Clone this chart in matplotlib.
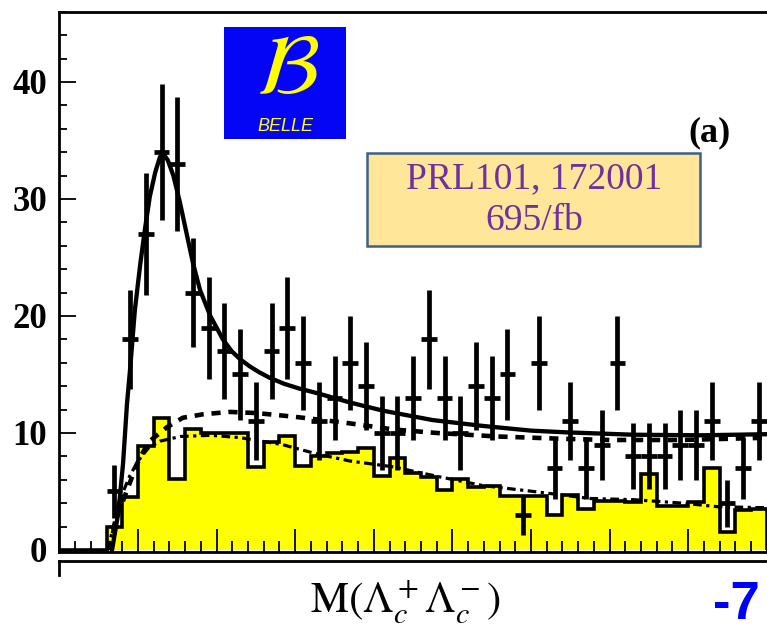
import numpy as np
import matplotlib
matplotlib.use("Agg")
import matplotlib.pyplot as plt
from matplotlib.patches import Rectangle
from matplotlib.ticker import MultipleLocator, NullFormatter

plt.rcParams["mathtext.fontset"] = "stix"

W, H = 767, 629

# 20 MeV bins of M(Lc+ Lc-) in GeV
edges = np.linspace(4.50, 5.40, 46)
centers = 0.5 * (edges[:-1] + edges[1:])

# scaled sideband background (yellow histogram)
bkg = [0, 0, 0, 2.0, 4.5, 8.9, 11.3, 6.1, 10.3, 10.0, 10.0, 10.0, 7.1, 9.2, 9.7,
       7.2, 8.0, 8.3, 8.4, 8.7, 6.3, 7.9, 6.6, 6.2, 5.1, 6.1, 5.4, 5.5, 4.6, 4.6,
       4.6, 3.0, 4.7, 3.5, 4.2, 4.2, 4.1, 6.5, 3.8, 3.8, 4.1, 7.0, 1.5, 3.4, 3.5]

# signal-region candidates, bins 3..44
counts = [5, 18, 27, 34, 33, 22, 19, 17, 15, 11, 17, 19, 16, 11, 13, 16, 14, 10,
          10, 13, 18, 13, 10, 14, 13, 15, 3, 16, 7, 11, 7, 9, 16, 8, 8, 8, 9, 9,
          11, 4, 7, 11]
first_bin = 3

# fit result: total
fit_m = [4.567, 4.575, 4.581, 4.586, 4.590, 4.596, 4.603, 4.609, 4.615, 4.622,
         4.628, 4.633, 4.638, 4.645, 4.653, 4.662, 4.670, 4.679, 4.692, 4.708,
         4.719, 4.730, 4.742, 4.754, 4.768, 4.786, 4.805, 4.828, 4.870, 4.912,
         4.975, 5.039, 5.100, 5.146, 5.230, 5.315, 5.405]
fit_y = [0.0, 3.2, 7.4, 12.5, 15.5, 20.5, 24.5, 27.5, 30.2, 32.3,
         33.6, 33.8, 33.3, 32.0, 29.8, 27.0, 24.5, 22.2, 20.0, 18.0,
         17.0, 16.3, 15.7, 15.2, 14.7, 14.2, 13.8, 13.4, 12.6, 11.9,
         11.1, 10.6, 10.2, 10.05, 9.85, 9.8, 9.9]

# fit result: non-resonant + background
nr_m = [4.563, 4.573, 4.586, 4.599, 4.613, 4.637, 4.657, 4.683, 4.717, 4.751,
        4.797, 4.861, 4.925, 4.980, 5.057, 5.141, 5.200, 5.293, 5.405]
nr_y = [0.0, 2.8, 5.1, 7.4, 9.2, 10.5, 11.3, 11.6, 11.8, 11.7,
        11.4, 10.9, 10.3, 10.0, 9.7, 9.5, 9.4, 9.4, 9.6]

# fit result: background only
bg_m = [4.561, 4.567, 4.575, 4.590, 4.600, 4.613, 4.628, 4.654, 4.692, 4.730,
        4.784, 4.828, 4.870, 4.925, 4.980, 5.039, 5.103, 5.175, 5.230, 5.293,
        5.337, 5.405]
bg_y = [0.0, 1.5, 4.0, 6.4, 7.6, 8.7, 9.3, 9.7, 9.8, 9.6,
        9.0, 8.2, 7.6, 7.1, 6.3, 5.5, 5.0, 4.4, 4.3, 4.0,
        3.7, 3.6]

fig = plt.figure(figsize=(W / 100, H / 100), dpi=100)

# main panel: 786 px per GeV, 11.7 px per event
x0_px, y_top_px, y_bot_px = 59.4, 11.8, 552.3
ax = fig.add_axes([x0_px / W, 1 - y_bot_px / H, 786 / W, (y_bot_px - y_top_px) / H])
ax.set_xlim(4.50, 5.50)
ax.set_ylim(-0.2, 46.0)

ax.xaxis.set_major_locator(MultipleLocator(0.1))
ax.xaxis.set_minor_locator(MultipleLocator(0.02))
ax.xaxis.set_major_formatter(NullFormatter())
ax.tick_params(axis="x", which="major", direction="in", length=16.5, width=1.3)
ax.tick_params(axis="x", which="minor", direction="in", length=8, width=1.3)

ax.yaxis.set_major_locator(MultipleLocator(10))
ax.yaxis.set_minor_locator(MultipleLocator(2))
ax.tick_params(axis="y", which="major", direction="in", length=12, width=1.3,
               pad=9, labelsize=25)
ax.tick_params(axis="y", which="minor", direction="in", length=6, width=1.3)

ax.stairs(bkg, edges, fill=True, color="#ffff00", zorder=1)
ax.stairs(bkg, edges, color="black", linewidth=2.6, zorder=2)

ax.plot(bg_m, bg_y, color="black", linewidth=2.3,
        linestyle=(0, (2.7, 1.4, 1.0, 1.4)), zorder=3)
ax.plot(nr_m, nr_y, color="black", linewidth=3.3,
        linestyle=(0, (2.0, 1.7)), zorder=3)
ax.plot(fit_m, fit_y, color="black", linewidth=3.1, zorder=4)

pts_m = centers[first_bin:first_bin + len(counts)]
cnt = np.array(counts, dtype=float)
ax.errorbar(pts_m, cnt, yerr=np.sqrt(cnt), xerr=0.01, fmt="none",
            ecolor="black", elinewidth=3.4, capsize=0, zorder=5)

for side in ["left", "top", "bottom"]:
    ax.spines[side].set_linewidth(2.0)
ax.spines["right"].set_visible(False)

ax.set_ylim(-0.2, 46.0)
for lab in ax.get_yticklabels():
    lab.set_fontfamily("Liberation Serif")
    lab.set_fontweight("bold")

# top of the next panel below
ax2 = fig.add_axes([x0_px / W, 1 - 575 / H, 786 / W, 14 / H])
ax2.set_xticks([])
ax2.set_yticks([])
ax2.spines["right"].set_visible(False)
ax2.spines["bottom"].set_visible(False)
ax2.spines["top"].set_linewidth(2.0)
ax2.spines["left"].set_linewidth(2.0)
ax2.patch.set_alpha(0)

# Belle logo
logo = fig.add_axes([224 / W, 1 - 139 / H, 122 / W, 112 / H])
logo.set_xlim(0, 1)
logo.set_ylim(0, 1)
logo.set_facecolor("#0505f5")
logo.set_xticks([])
logo.set_yticks([])
for s in logo.spines.values():
    s.set_visible(False)
logo.text(0.52, 0.40, r"$\mathcal{B}$", color="#ffff00", fontsize=62,
          ha="center", va="baseline")
logo.text(0.50, 0.11, "BELLE", color="#ffff00", fontsize=13, style="italic",
          family="Liberation Sans", ha="center", va="center")

# reference box
box_l, box_r, box_t, box_b = 367, 700, 153, 246
fig.patches.append(Rectangle((box_l / W, 1 - box_b / H), (box_r - box_l) / W,
                             (box_b - box_t) / H, transform=fig.transFigure,
                             facecolor="#ffe699", edgecolor="#3d5f8c",
                             linewidth=1.8, zorder=6))
fig.text(534 / W, 1 - 179 / H, "PRL101, 172001", color="#7030a0",
         family="Liberation Serif", fontsize=27, ha="center", va="center",
         zorder=7)
fig.text(534 / W, 1 - 221 / H, "695/fb", color="#7030a0",
         family="Liberation Serif", fontsize=27, ha="center", va="center",
         zorder=7)

fig.text(710 / W, 1 - 133 / H, "(a)", family="Liberation Serif",
         fontweight="bold", fontsize=26, ha="center", va="center")

fig.text(405 / W, 1 - 602 / H, r"$\mathrm{M}(\Lambda_c^+\Lambda_c^-)$",
         fontsize=31, ha="center", va="center")
fig.text(713 / W, 1 - 619 / H, "-7", family="Liberation Sans",
         fontweight="bold", fontsize=38, color="#0000ff", ha="left",
         va="baseline")

fig.savefig("out.png", dpi=100)
